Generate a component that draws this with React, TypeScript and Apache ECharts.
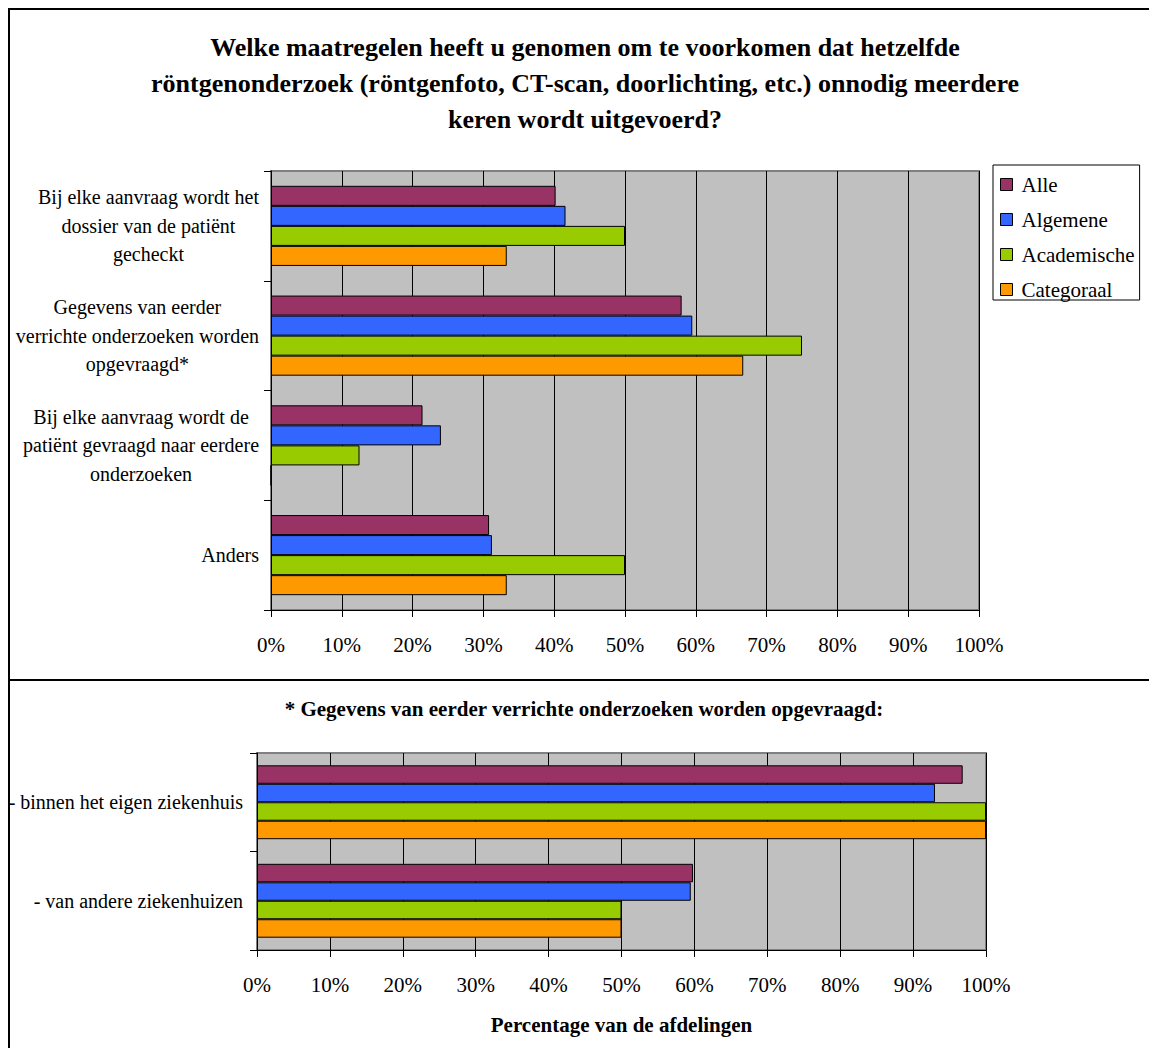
import React, { useEffect, useRef } from 'react';
import * as echarts from 'echarts';

const FONT = "'Liberation Serif', 'Times New Roman', serif";

const mainTitle =
  'Welke maatregelen heeft u genomen om te voorkomen dat hetzelfde\nröntgenonderzoek (röntgenfoto, CT-scan, doorlichting, etc.) onnodig meerdere\nkeren wordt uitgevoerd?';
const subTitle = '* Gegevens van eerder verrichte onderzoeken worden opgevraagd:';
const bottomAxisName = 'Percentage van de afdelingen';

const topCategories = [
  'Bij elke aanvraag wordt het\ndossier van de patiënt\ngecheckt',
  'Gegevens van eerder\nverrichte onderzoeken worden\nopgevraagd*',
  'Bij elke aanvraag wordt de\npatiënt gevraagd naar eerdere\nonderzoeken',
  'Anders',
];
const bottomCategories = ['- binnen het eigen ziekenhuis', '- van andere ziekenhuizen'];

const seriesNames = ['Alle', 'Algemene', 'Academische', 'Categoraal'];
const seriesColors = ['#993366', '#3366FF', '#99CC00', '#FF9900'];

const topAlle = [40.2, 58.0, 21.4, 30.8];
const topAlgemene = [41.6, 59.5, 24.0, 31.2];
const topAcademische = [50, 75, 12.5, 50];
const topCategoraal = [33.3, 66.7, 0, 33.3];

const bottomAlle = [96.8, 59.8];
const bottomAlgemene = [93.0, 59.5];
const bottomAcademische = [100, 50];
const bottomCategoraal = [100, 50];

const topValues = [topAlle, topAlgemene, topAcademische, topCategoraal];
const bottomValues = [bottomAlle, bottomAlgemene, bottomAcademische, bottomCategoraal];

function xAxisCfg(gridIndex: number, withName: boolean, margin: number) {
  return {
    type: 'value',
    gridIndex,
    min: 0,
    max: 100,
    interval: 10,
    name: withName ? bottomAxisName : '',
    nameLocation: 'middle',
    nameGap: 64,
    nameTextStyle: { fontFamily: FONT, fontSize: 21, fontWeight: 'bold', color: '#000' },
    axisLine: { show: true, lineStyle: { color: '#000', width: 1 } },
    axisTick: { show: true, length: 7, lineStyle: { color: '#000', width: 1 } },
    axisLabel: {
      formatter: '{value}%',
      fontFamily: FONT,
      fontSize: 21,
      color: '#000',
      margin,
    },
    splitLine: { show: true, lineStyle: { color: '#000', width: 1 } },
  };
}

function yAxisCfg(gridIndex: number, data: string[], margin: number) {
  return {
    type: 'category',
    gridIndex,
    inverse: true,
    data,
    axisLine: { show: true, lineStyle: { color: '#000', width: 1 } },
    axisTick: { show: true, length: 7, lineStyle: { color: '#000', width: 1 } },
    axisLabel: {
      align: 'right',
      margin,
      fontFamily: FONT,
      fontSize: 20,
      color: '#000',
      lineHeight: 28.5,
      formatter: (v: string) =>
        v
          .split('\n')
          .map((l) => `{c|${l}}`)
          .join('\n'),
      rich: {
        c: { align: 'center', fontFamily: FONT, fontSize: 20, lineHeight: 28.5, color: '#000' },
      },
    },
    splitLine: { show: false },
  };
}

export default function App() {
  const ref = useRef<HTMLDivElement>(null);

  useEffect(() => {
    if (!ref.current) return;
    const chart = echarts.init(ref.current, undefined, { renderer: 'svg' });

    const series: any[] = [];
    seriesNames.forEach((name, i) => {
      series.push({
        name,
        type: 'bar',
        xAxisIndex: 0,
        yAxisIndex: 0,
        data: topValues[i],
        barGap: '0%',
        barCategoryGap: '27%',
        itemStyle: { color: seriesColors[i], borderColor: '#000', borderWidth: 1 },
      });
    });
    seriesNames.forEach((name, i) => {
      series.push({
        name,
        type: 'bar',
        xAxisIndex: 1,
        yAxisIndex: 1,
        data: bottomValues[i],
        barGap: '0%',
        barCategoryGap: '25%',
        itemStyle: { color: seriesColors[i], borderColor: '#000', borderWidth: 1 },
      });
    });

    chart.setOption({
      animation: false,
      backgroundColor: '#fff',
      grid: [
        {
          left: 271,
          top: 171,
          width: 708,
          height: 439,
          show: true,
          backgroundColor: '#C0C0C0',
          borderColor: '#808080',
          borderWidth: 2,
          containLabel: false,
        },
        {
          left: 257,
          top: 753,
          width: 729,
          height: 197,
          show: true,
          backgroundColor: '#C0C0C0',
          borderColor: '#808080',
          borderWidth: 2,
          containLabel: false,
        },
      ],
      xAxis: [xAxisCfg(0, false, 24), xAxisCfg(1, true, 24)],
      yAxis: [yAxisCfg(0, topCategories, 12), yAxisCfg(1, bottomCategories, 14)],
      legend: {
        data: seriesNames,
        orient: 'vertical',
        left: 993,
        top: 165,
        padding: [9, 5, 0, 7],
        itemWidth: 12,
        itemHeight: 12,
        itemGap: 14,
        borderColor: '#000',
        borderWidth: 1,
        backgroundColor: '#fff',
        icon: 'rect',
        itemStyle: { borderColor: '#000', borderWidth: 1 },
        formatter: '{t|{name}}',
        textStyle: {
          fontFamily: FONT,
          fontSize: 21,
          color: '#000',
          lineHeight: 18,
          rich: { t: { fontFamily: FONT, fontSize: 21, color: '#000', lineHeight: 18, padding: [0, 0, 0, 4] } },
        },
        selectedMode: false,
      },
      graphic: [
        {
          type: 'rect',
          shape: { x: 9, y: 9, width: 1160, height: 1060 },
          style: { fill: 'none', stroke: '#000', lineWidth: 2 },
          silent: true,
          z: 100,
        },
        {
          type: 'line',
          shape: { x1: 9, y1: 680, x2: 1160, y2: 680 },
          style: { stroke: '#000', lineWidth: 2 },
          silent: true,
          z: 100,
        },
        {
          type: 'text',
          x: 585,
          y: 83,
          style: {
            text: mainTitle,
            textAlign: 'center',
            textVerticalAlign: 'middle',
            fontFamily: FONT,
            fontSize: 26,
            fontWeight: 'bold',
            lineHeight: 36,
            fill: '#000',
          },
          silent: true,
        },
        {
          type: 'text',
          x: 584,
          y: 709,
          style: {
            text: subTitle,
            textAlign: 'center',
            textVerticalAlign: 'middle',
            fontFamily: FONT,
            fontSize: 21,
            fontWeight: 'bold',
            fill: '#000',
          },
          silent: true,
        },
      ],
      series,
    });

    return () => {
      chart.dispose();
    };
  }, []);

  return (
    <div
      ref={ref}
      style={{ position: 'fixed', left: 0, top: 0, width: 1149, height: 1048, background: '#fff' }}
    />
  );
}
